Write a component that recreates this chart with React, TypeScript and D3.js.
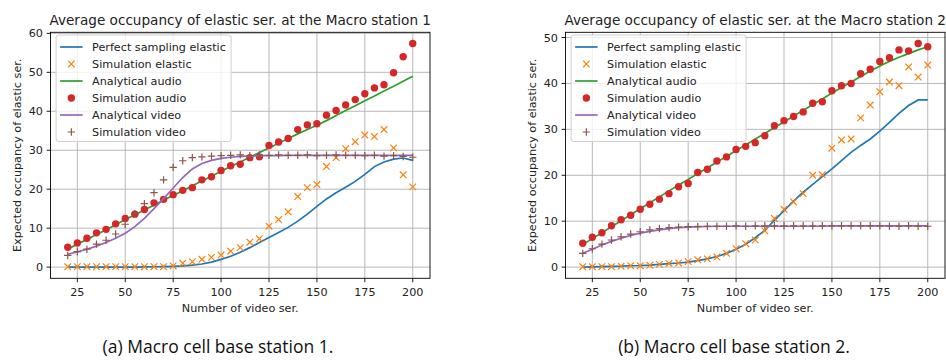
import React, { useEffect, useRef } from "react";
import * as d3 from "d3";

// number of video services (x axis), shared by both panels
const videoSer = [20, 25, 30, 35, 40, 45, 50, 55, 60, 65, 70, 75, 80, 85, 90, 95, 100, 105, 110, 115, 120, 125, 130, 135, 140, 145, 150, 155, 160, 165, 170, 175, 180, 185, 190, 195, 200];

// station 1
const perfectElastic1 = [0, 0, 0, 0, 0, 0, 0, 0, 0.05, 0.1, 0.15, 0.2, 0.3, 0.5, 0.8, 1.3, 2.0, 2.8, 3.8, 5.0, 6.3, 7.6, 8.9, 10.2, 11.8, 13.6, 15.6, 17.5, 19.1, 20.5, 22.0, 23.8, 25.8, 27.0, 27.7, 28.0, 27.4];
const simElastic1 = [0.1, 0.1, 0.1, 0.1, 0.1, 0.1, 0.1, 0.1, 0.1, 0.1, 0.1, 0.3, 1.0, 1.4, 2.0, 2.5, 3.1, 4.1, 5.0, 6.4, 7.3, 10.5, 12.2, 14.2, 18.1, 20.4, 21.2, 25.8, 28.1, 30.4, 32.2, 33.9, 33.5, 35.3, 30.6, 23.7, 20.6];
const analyticalAudio1 = [4.6, 5.9, 7.1, 8.4, 9.6, 10.9, 12.2, 13.4, 14.7, 15.9, 17.2, 18.4, 19.6, 20.9, 22.1, 23.3, 24.6, 25.8, 27.0, 28.2, 29.4, 30.6, 31.8, 33.0, 34.2, 35.3, 36.4, 37.6, 38.9, 40.2, 41.4, 42.7, 43.9, 45.2, 46.4, 47.7, 49.0];
const simAudio1 = [5.1, 6.2, 7.4, 8.8, 9.7, 11.1, 12.5, 13.6, 14.8, 16.5, 17.4, 18.6, 19.7, 20.4, 22.4, 23.2, 24.8, 26.0, 26.4, 28.1, 28.3, 31.2, 32.1, 33.0, 35.3, 36.5, 36.8, 39.0, 40.2, 41.6, 43.0, 44.5, 46.0, 46.8, 49.9, 54.0, 57.4];
const analyticalVideo1 = [3.3, 3.9, 4.6, 5.4, 6.3, 7.4, 8.7, 10.4, 12.5, 15.0, 17.6, 20.3, 23.0, 25.2, 26.6, 27.4, 27.9, 28.2, 28.4, 28.5, 28.6, 28.6, 28.6, 28.7, 28.7, 28.7, 28.7, 28.7, 28.7, 28.7, 28.7, 28.7, 28.7, 28.7, 28.7, 28.7, 28.7];
const simVideo1 = [3.0, 4.0, 4.6, 5.9, 6.9, 8.5, 11.0, 13.7, 16.3, 19.1, 22.4, 25.6, 27.3, 28.1, 28.3, 28.5, 28.6, 28.7, 28.8, 28.6, 28.8, 28.7, 28.8, 28.7, 28.7, 28.8, 28.6, 28.7, 28.8, 28.7, 28.7, 28.6, 28.7, 28.5, 28.6, 28.4, 28.2];

// station 2
const perfectElastic2 = [0, 0.05, 0.1, 0.15, 0.2, 0.3, 0.35, 0.45, 0.6, 0.75, 0.9, 1.1, 1.4, 1.8, 2.3, 3.0, 3.9, 5.0, 6.4, 8.0, 10.2, 12.3, 14.4, 16.3, 18.0, 19.7, 21.4, 23.2, 25.0, 26.5, 27.9, 29.6, 31.5, 33.5, 35.2, 36.4, 36.4];
const simElastic2 = [0.1, 0.1, 0.1, 0.1, 0.2, 0.3, 0.3, 0.4, 0.6, 0.8, 0.9, 1.2, 1.6, 1.8, 2.2, 3.0, 4.0, 5.1, 5.9, 7.9, 10.6, 12.6, 14.2, 16.0, 20.0, 20.1, 25.9, 27.7, 27.9, 32.5, 35.3, 38.2, 40.3, 39.5, 43.6, 41.4, 44.0];
const analyticalAudio2 = [4.9, 6.2, 7.5, 8.8, 10.1, 11.4, 12.7, 14.0, 15.3, 16.6, 17.9, 19.1, 20.4, 21.6, 22.9, 24.1, 25.4, 26.6, 27.9, 29.1, 30.4, 31.6, 32.9, 34.1, 35.4, 36.6, 37.9, 39.1, 40.3, 41.5, 42.7, 43.8, 44.8, 45.7, 46.5, 47.3, 48.0];
const simAudio2 = [5.2, 6.5, 7.5, 9.0, 10.3, 11.3, 12.6, 13.7, 14.8, 16.0, 17.5, 18.2, 20.6, 21.3, 23.1, 24.0, 25.6, 26.3, 27.1, 28.6, 30.8, 31.9, 32.8, 33.8, 35.7, 36.0, 38.4, 39.5, 40.0, 42.1, 43.1, 44.8, 45.6, 47.3, 47.1, 48.7, 48.0];
const analyticalVideo2 = [3.0, 3.9, 4.8, 5.6, 6.3, 6.9, 7.4, 7.8, 8.1, 8.4, 8.6, 8.7, 8.8, 8.85, 8.9, 8.9, 8.9, 8.9, 8.9, 8.9, 8.9, 8.9, 8.9, 8.9, 8.9, 8.9, 9.0, 9.0, 9.0, 9.0, 9.0, 9.0, 9.0, 9.0, 9.0, 9.0, 9.0];
const simVideo2 = [3.0, 4.0, 5.0, 5.9, 6.6, 7.2, 7.7, 8.1, 8.4, 8.6, 8.7, 8.8, 8.8, 8.9, 8.9, 8.9, 9.0, 8.9, 9.0, 9.0, 9.0, 9.0, 9.0, 9.0, 9.0, 9.0, 9.0, 9.0, 9.0, 9.0, 9.0, 9.0, 8.9, 8.9, 9.0, 8.9, 8.9];

const xTicks = [25, 50, 75, 100, 125, 150, 175, 200];
const yTicks1 = [0, 10, 20, 30, 40, 50, 60];
const yTicks2 = [0, 10, 20, 30, 40, 50];

const legendLabels = [
  "Perfect sampling elastic",
  "Simulation elastic",
  "Analytical audio",
  "Simulation audio",
  "Analytical video",
  "Simulation video",
];

const blue = "#1f77b4";
const orange = "#ff7f0e";
const green = "#2ca02c";
const red = "#d62728";
const purple = "#9467bd";
const brown = "#8c564b";

const font = "DejaVu Sans";
const textColor = "#222";

type Panel = {
  title: string;
  caption: string;
  left: number;
  right: number;
  captionX: number;
  yTicks: number[];
  series: number[][];
};

const drawMarker = (g: any, kind: string, cx: number, cy: number) => {
  if (kind === "x") {
    const s = 3.3;
    g.append("path")
      .attr("d", `M${cx - s},${cy - s}L${cx + s},${cy + s}M${cx - s},${cy + s}L${cx + s},${cy - s}`)
      .attr("stroke", orange)
      .attr("stroke-width", 1.2)
      .attr("fill", "none");
  } else if (kind === "+") {
    const s = 3.7;
    g.append("path")
      .attr("d", `M${cx - s},${cy}L${cx + s},${cy}M${cx},${cy - s}L${cx},${cy + s}`)
      .attr("stroke", brown)
      .attr("stroke-width", 1.2)
      .attr("fill", "none");
  } else {
    g.append("circle").attr("cx", cx).attr("cy", cy).attr("r", 3.7).attr("fill", red);
  }
};

const drawPanel = (svg: any, p: Panel) => {
  const top = 32.3;
  const bottom = 278.3;

  const all = p.series.flat();
  const lo = d3.min(all) as number;
  const hi = d3.max(all) as number;
  const pad = (hi - lo) * 0.05;

  const x = d3.scaleLinear().domain([11, 209]).range([p.left, p.right]);
  const y = d3.scaleLinear().domain([lo - pad, hi + pad]).range([bottom, top]);

  const g = svg.append("g");

  // grid
  g.selectAll(".gx")
    .data(xTicks)
    .enter()
    .append("line")
    .attr("x1", (d: number) => x(d))
    .attr("x2", (d: number) => x(d))
    .attr("y1", top)
    .attr("y2", bottom)
    .attr("stroke", "#b0b0b0")
    .attr("stroke-width", 0.9);
  g.selectAll(".gy")
    .data(p.yTicks)
    .enter()
    .append("line")
    .attr("x1", p.left)
    .attr("x2", p.right)
    .attr("y1", (d: number) => y(d))
    .attr("y2", (d: number) => y(d))
    .attr("stroke", "#b0b0b0")
    .attr("stroke-width", 0.9);

  const line = d3
    .line<number>()
    .x((_d, i) => x(videoSer[i]))
    .y((d) => y(d));

  const [pe, se, aa, sa, av, sv] = p.series;

  g.append("path").attr("d", line(pe)).attr("fill", "none").attr("stroke", blue).attr("stroke-width", 1.7);
  se.forEach((d, i) => drawMarker(g, "x", x(videoSer[i]), y(d)));
  g.append("path").attr("d", line(aa)).attr("fill", "none").attr("stroke", green).attr("stroke-width", 1.7);
  sa.forEach((d, i) => drawMarker(g, "o", x(videoSer[i]), y(d)));
  g.append("path").attr("d", line(av)).attr("fill", "none").attr("stroke", purple).attr("stroke-width", 1.7);
  sv.forEach((d, i) => drawMarker(g, "+", x(videoSer[i]), y(d)));

  // frame
  g.append("rect")
    .attr("x", p.left)
    .attr("y", top)
    .attr("width", p.right - p.left)
    .attr("height", bottom - top)
    .attr("fill", "none")
    .attr("stroke", "#000")
    .attr("stroke-width", 0.9);

  // ticks
  xTicks.forEach((t) => {
    g.append("line").attr("x1", x(t)).attr("x2", x(t)).attr("y1", bottom).attr("y2", bottom + 3.9).attr("stroke", "#000").attr("stroke-width", 0.9);
    g.append("text")
      .attr("x", x(t))
      .attr("y", bottom + 17.6)
      .attr("text-anchor", "middle")
      .attr("font-family", font)
      .attr("font-size", 11.2)
      .attr("fill", textColor)
      .text(t);
  });
  p.yTicks.forEach((t) => {
    g.append("line").attr("x1", p.left - 3.9).attr("x2", p.left).attr("y1", y(t)).attr("y2", y(t)).attr("stroke", "#000").attr("stroke-width", 0.9);
    g.append("text")
      .attr("x", p.left - 7.5)
      .attr("y", y(t))
      .attr("dy", "0.36em")
      .attr("text-anchor", "end")
      .attr("font-family", font)
      .attr("font-size", 11.2)
      .attr("fill", textColor)
      .text(t);
  });

  const cx = (p.left + p.right) / 2;

  g.append("text")
    .attr("x", cx)
    .attr("y", 24.5)
    .attr("text-anchor", "middle")
    .attr("font-family", font)
    .attr("font-size", 13.6)
    .attr("fill", textColor)
    .text(p.title);

  g.append("text")
    .attr("x", cx)
    .attr("y", 311.5)
    .attr("text-anchor", "middle")
    .attr("font-family", font)
    .attr("font-size", 11.2)
    .attr("fill", textColor)
    .text("Number of video ser.");

  g.append("text")
    .attr("transform", `translate(${p.left - 30}, ${(top + bottom) / 2}) rotate(-90)`)
    .attr("text-anchor", "middle")
    .attr("font-family", font)
    .attr("font-size", 11.2)
    .attr("fill", textColor)
    .text("Expected occupancy of elastic ser.");

  // legend
  const lx = p.left + 5.6;
  const ly = 35;
  const lg = g.append("g");
  lg.append("rect")
    .attr("x", lx)
    .attr("y", ly)
    .attr("width", 175)
    .attr("height", 106.5)
    .attr("rx", 2.5)
    .attr("fill", "#fff")
    .attr("fill-opacity", 0.8)
    .attr("stroke", "#d0d0d0")
    .attr("stroke-width", 1);
  const kinds = ["line", "x", "line", "o", "line", "+"];
  const kindColors = [blue, orange, green, red, purple, brown];
  legendLabels.forEach((lab, i) => {
    const ry = ly + 12 + i * 17;
    const hx0 = lx + 4;
    const hx1 = lx + 26.5;
    if (kinds[i] === "line") {
      lg.append("line").attr("x1", hx0).attr("x2", hx1).attr("y1", ry).attr("y2", ry).attr("stroke", kindColors[i]).attr("stroke-width", 1.7);
    } else {
      drawMarker(lg, kinds[i], (hx0 + hx1) / 2, ry);
    }
    lg.append("text")
      .attr("x", lx + 36)
      .attr("y", ry)
      .attr("dy", "0.36em")
      .attr("font-family", font)
      .attr("font-size", 11.2)
      .attr("fill", textColor)
      .text(lab);
  });

  svg.append("text")
    .attr("x", p.captionX)
    .attr("y", 352.5)
    .attr("text-anchor", "middle")
    .attr("font-family", "Open Sans")
    .attr("font-size", 17.5)
    .attr("fill", "#111")
    .text(p.caption);
};

const App = () => {
  const ref = useRef<SVGSVGElement>(null);

  useEffect(() => {
    const svg = d3.select(ref.current);
    svg.selectAll("*").remove();

    drawPanel(svg, {
      title: "Average occupancy of elastic ser. at the Macro station 1",
      caption: "(a) Macro cell base station 1.",
      left: 50.5,
      right: 430,
      captionX: 218,
      yTicks: yTicks1,
      series: [perfectElastic1, simElastic1, analyticalAudio1, simAudio1, analyticalVideo1, simVideo1],
    });
    drawPanel(svg, {
      title: "Average occupancy of elastic ser. at the Macro station 2",
      caption: "(b) Macro cell base station 2.",
      left: 565.5,
      right: 945,
      captionX: 734,
      yTicks: yTicks2,
      series: [perfectElastic2, simElastic2, analyticalAudio2, simAudio2, analyticalVideo2, simVideo2],
    });
  });

  return (
    <svg
      ref={ref}
      width={946}
      height={360}
      style={{ position: "absolute", left: 0, top: 0, background: "#fff" }}
    />
  );
};

export default App;
